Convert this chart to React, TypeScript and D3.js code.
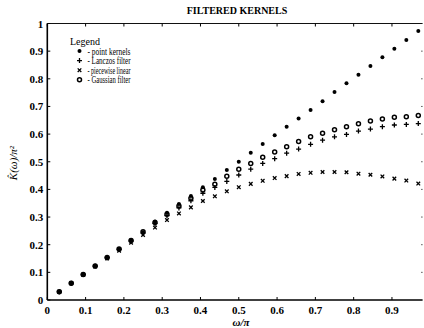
import * as d3 from "d3";

// frequency samples k/32, k = 1..31
const omega: number[] = d3.range(1, 32).map((k) => k / 32);

const pointKernels: number[] = [
  0.028, 0.06, 0.093, 0.123, 0.153, 0.184, 0.217, 0.245, 0.284, 0.316, 0.347,
  0.376, 0.408, 0.438, 0.47, 0.5, 0.533, 0.564, 0.596, 0.627, 0.656, 0.687,
  0.719, 0.752, 0.784, 0.815, 0.846, 0.878, 0.909, 0.94, 0.973,
];

const lanczos: number[] = [
  0.03, 0.061, 0.092, 0.122, 0.153, 0.183, 0.214, 0.242, 0.277, 0.305, 0.333,
  0.359, 0.386, 0.407, 0.429, 0.452, 0.473, 0.494, 0.511, 0.531, 0.546, 0.563,
  0.578, 0.59, 0.599, 0.611, 0.618, 0.627, 0.633, 0.635, 0.638,
];

const piecewise: number[] = [
  0.03, 0.061, 0.091, 0.121, 0.15, 0.178, 0.207, 0.235, 0.262, 0.289, 0.313,
  0.335, 0.358, 0.375, 0.393, 0.408, 0.42, 0.431, 0.441, 0.448, 0.456, 0.46,
  0.463, 0.463, 0.462, 0.457, 0.453, 0.447, 0.439, 0.432, 0.421,
];

const gaussian: number[] = [
  0.03, 0.061, 0.092, 0.123, 0.154, 0.184, 0.215, 0.247, 0.28, 0.31, 0.34,
  0.368, 0.398, 0.419, 0.448, 0.473, 0.494, 0.516, 0.535, 0.554, 0.573, 0.59,
  0.603, 0.616, 0.627, 0.637, 0.647, 0.655, 0.661, 0.663, 0.667,
];

const xTicks: number[] = [0, 0.1, 0.2, 0.3, 0.4, 0.5, 0.6, 0.7, 0.8, 0.9];
const yTicks: number[] = [0, 0.1, 0.2, 0.3, 0.4, 0.5, 0.6, 0.7, 0.8, 0.9, 1];
const yTickLabels: string[] = ["0", "0.1", "0.2", "0.3", "0.4", "0.5", "0.6", "0.7", "0.8", "0.9", "1"];

const legendSymbols: string[] = ["*", "+", "x", "o"];
const legendLabels: string[] = ["- point kernels", "- Lanczos filter", "- piecewise linear", "- Gaussian filter"];

const W = 424;
const H = 328;
const serif = "'Liberation Serif', 'DejaVu Serif', serif";

const x = d3.scaleLinear().domain([0, 0.98]).range([47.3, 422.6]);
const y = d3.scaleLinear().domain([0, 1]).range([300, 23.5]);

const Marker = ({ kind, cx, cy }: { kind: string; cx: number; cy: number }) => {
  if (kind === "*") return <circle cx={cx} cy={cy} r={2} fill="#000" />;
  if (kind === "o")
    return <circle cx={cx} cy={cy} r={2} fill="none" stroke="#000" strokeWidth={1.5} />;
  if (kind === "+")
    return (
      <path
        d={`M${cx - 2.5},${cy}H${cx + 2.5}M${cx},${cy - 2.5}V${cy + 2.5}`}
        stroke="#000"
        strokeWidth={1.3}
      />
    );
  return (
    <path
      d={`M${cx - 1.8},${cy - 1.8}L${cx + 1.8},${cy + 1.8}M${cx + 1.8},${cy - 1.8}L${cx - 1.8},${cy + 1.8}`}
      stroke="#000"
      strokeWidth={1.3}
    />
  );
};

const series: { kind: string; values: number[] }[] = [
  { kind: "x", values: piecewise },
  { kind: "+", values: lanczos },
  { kind: "o", values: gaussian },
  { kind: "*", values: pointKernels },
];

export default function App() {
  const [x0, x1] = x.range();
  const [y0, y1] = y.range();
  return (
    <svg
      width={W}
      height={H}
      style={{ position: "absolute", left: 0, top: 0, background: "#fff" }}
      fontFamily={serif}
    >
      {/* title */}
      <text x={237} y={14} textAnchor="middle" fontSize={10} fontWeight="bold">
        FILTERED KERNELS
      </text>

      {/* frame */}
      <line x1={x0} x2={x0} y1={y1} y2={y0} stroke="#000" strokeWidth={1.6} />
      <line x1={x0} x2={x1} y1={y0} y2={y0} stroke="#000" strokeWidth={1.6} />
      <line x1={x0} x2={x1} y1={y1} y2={y1} stroke="#111" strokeWidth={1.2} />

      {/* y ticks */}
      {yTicks.map((t, i) => (
        <g key={`y${i}`}>
          <line x1={x0} x2={x0 + 3} y1={y(t)} y2={y(t)} stroke="#000" strokeWidth={1} />
          {i > 0 && i < yTicks.length - 1 && (
            <line x1={x1 - 1.5} x2={x1} y1={y(t)} y2={y(t)} stroke="#555" strokeWidth={1} />
          )}
          <text
            x={x0 - 4}
            y={y(t) + 4}
            textAnchor="end"
            fontSize={11}
            fontWeight="bold"
          >
            {yTickLabels[i]}
          </text>
        </g>
      ))}

      {/* x ticks */}
      {xTicks.map((t, i) => (
        <g key={`x${i}`}>
          <line x1={x(t)} x2={x(t)} y1={y0} y2={y0 - 3} stroke="#000" strokeWidth={1} />
          <line x1={x(t)} x2={x(t)} y1={y1} y2={y1 + 3} stroke="#000" strokeWidth={1} />
          <text x={x(t)} y={314} textAnchor="middle" fontSize={11} fontWeight="bold">
            {t === 0 ? "0" : t.toFixed(1)}
          </text>
        </g>
      ))}

      {/* axis labels */}
      <text x={241} y={326} textAnchor="middle" fontSize={11} fontStyle="italic" fontWeight="bold">
        ω/π
      </text>
      <text
        transform="translate(17,163) rotate(-90)"
        textAnchor="middle"
        fontSize={11}
        fontStyle="italic"
      >
        K̂(ω)/π²
      </text>

      {/* legend */}
      <text x={70} y={44.5} fontSize={10}>
        Legend
      </text>
      {legendLabels.map((lab, i) => (
        <g key={lab}>
          <Marker kind={legendSymbols[i]} cx={79.5} cy={51 + i * 9.6} />
          <text x={87.5} y={54.5 + i * 9.6} fontSize={9.5} textLength={43} lengthAdjust="spacingAndGlyphs">
            {lab}
          </text>
        </g>
      ))}

      {/* data */}
      {series.map((s) => (
        <g key={s.kind}>
          {s.values.map((v, i) => (
            <Marker key={i} kind={s.kind} cx={x(omega[i])} cy={y(v)} />
          ))}
        </g>
      ))}
    </svg>
  );
}
